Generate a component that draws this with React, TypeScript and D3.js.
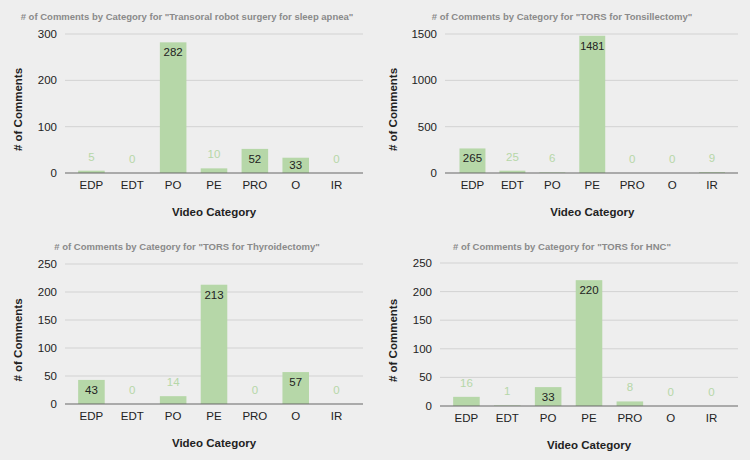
import React from 'react';
import * as d3 from 'd3';

// Categories shared by all four charts
const categories = ['EDP', 'EDT', 'PO', 'PE', 'PRO', 'O', 'IR'];

// Comment counts per chart
const sleepApnea = [5, 0, 282, 10, 52, 33, 0];
const tonsillectomy = [265, 25, 6, 1481, 0, 0, 9];
const thyroidectomy = [43, 0, 14, 213, 0, 57, 0];
const hnc = [16, 1, 33, 220, 8, 0, 0];

// Y tick labels per chart
const ticksSleep = [0, 100, 200, 300];
const ticksTonsil = [0, 500, 1000, 1500];
const ticksThyroid = [0, 50, 100, 150, 200, 250];
const ticksHnc = [0, 50, 100, 150, 200, 250];

const titles = [
  '# of Comments by Category for "Transoral robot surgery for sleep apnea"',
  '# of Comments by Category for "TORS for Tonsillectomy"',
  '# of Comments by Category for "TORS for Thyroidectomy"',
  '# of Comments by Category for "TORS for HNC"',
];

const FONT = '"Liberation Sans", Arial, sans-serif';
const BAR = '#b6d7a8';

type PanelProps = {
  ox: number;
  oy: number;
  title: string;
  values: number[];
  ticks: number[];
  gridLeft: number; // relative to panel
  top: number;
  bottom: number;
  bandStart: number;
  bandEnd: number;
};

const Panel: React.FC<PanelProps> = ({ ox, oy, title, values, ticks, gridLeft, top, bottom, bandStart, bandEnd }) => {
  const gridRight = 363;
  const x = d3.scaleBand<string>().domain(categories).range([bandStart, bandEnd]).paddingInner(0.35).paddingOuter(0.175);
  const y = d3.scaleLinear().domain([0, ticks[ticks.length - 1]]).range([bottom, top]);
  const bw = x.bandwidth();

  return (
    <g transform={`translate(${ox},${oy})`} fontFamily={FONT}>
      <text x={187} y={20} textAnchor="middle" fontSize={9.5} fontWeight="bold" fill="#8a8a8a">
        {title}
      </text>
      {ticks.map((t) => (
        <g key={t}>
          {t !== 0 && <line x1={gridLeft} x2={gridRight} y1={y(t)} y2={y(t)} stroke="#d2d2d2" strokeWidth={1} />}
          <text x={gridLeft - 8} y={y(t)} dy="0.35em" textAnchor="end" fontSize={11.5} fill="#222">
            {t}
          </text>
        </g>
      ))}
      {values.map((v, i) => {
        const cx = (x(categories[i]) || 0) + bw / 2;
        const h = bottom - y(v);
        const inside = h > 13;
        const label = String(v);
        const fs = Math.min(11.5, bw / (label.length * 0.6));
        return (
          <g key={categories[i]}>
            <rect x={x(categories[i])} y={y(v)} width={bw} height={h} fill={BAR} />
            <text
              x={cx}
              y={inside ? Math.min(y(v) + 14, bottom - 4) : y(v) - 10}
              textAnchor="middle"
              fontSize={fs}
              fill={inside ? '#222' : BAR}
            >
              {label}
            </text>
            <text x={cx} y={bottom + 16} textAnchor="middle" fontSize={11.5} fill="#222">
              {categories[i]}
            </text>
          </g>
        );
      })}
      <line x1={gridLeft} x2={gridRight} y1={bottom} y2={bottom} stroke="#666" strokeWidth={1.2} />
      <text x={(bandStart + bandEnd) / 2} y={bottom + 43} textAnchor="middle" fontSize={11.5} fontWeight="bold" fill="#222">
        Video Category
      </text>
      <text
        transform={`translate(22,${(top + bottom) / 2 + 6}) rotate(-90)`}
        textAnchor="middle"
        fontSize={11.5}
        fontWeight="bold"
        fill="#222"
      >
        # of Comments
      </text>
    </g>
  );
};

export default function App() {
  return (
    <svg width={750} height={460} style={{ position: 'absolute', left: 0, top: 0, background: '#eeeeee' }}>
      <rect width={750} height={460} fill="#eeeeee" />
      <Panel ox={0} oy={0} title={titles[0]} values={sleepApnea} ticks={ticksSleep}
        gridLeft={65} top={34} bottom={173} bandStart={71} bandEnd={357} />
      <Panel ox={375} oy={0} title={titles[1]} values={tonsillectomy} ticks={ticksTonsil}
        gridLeft={70} top={34} bottom={173} bandStart={77.5} bandEnd={357} />
      <Panel ox={0} oy={230} title={titles[2]} values={thyroidectomy} ticks={ticksThyroid}
        gridLeft={65} top={34} bottom={174} bandStart={71} bandEnd={357} />
      <Panel ox={375} oy={230} title={titles[3]} values={hnc} ticks={ticksHnc}
        gridLeft={65} top={33} bottom={176} bandStart={71} bandEnd={357} />
    </svg>
  );
}
